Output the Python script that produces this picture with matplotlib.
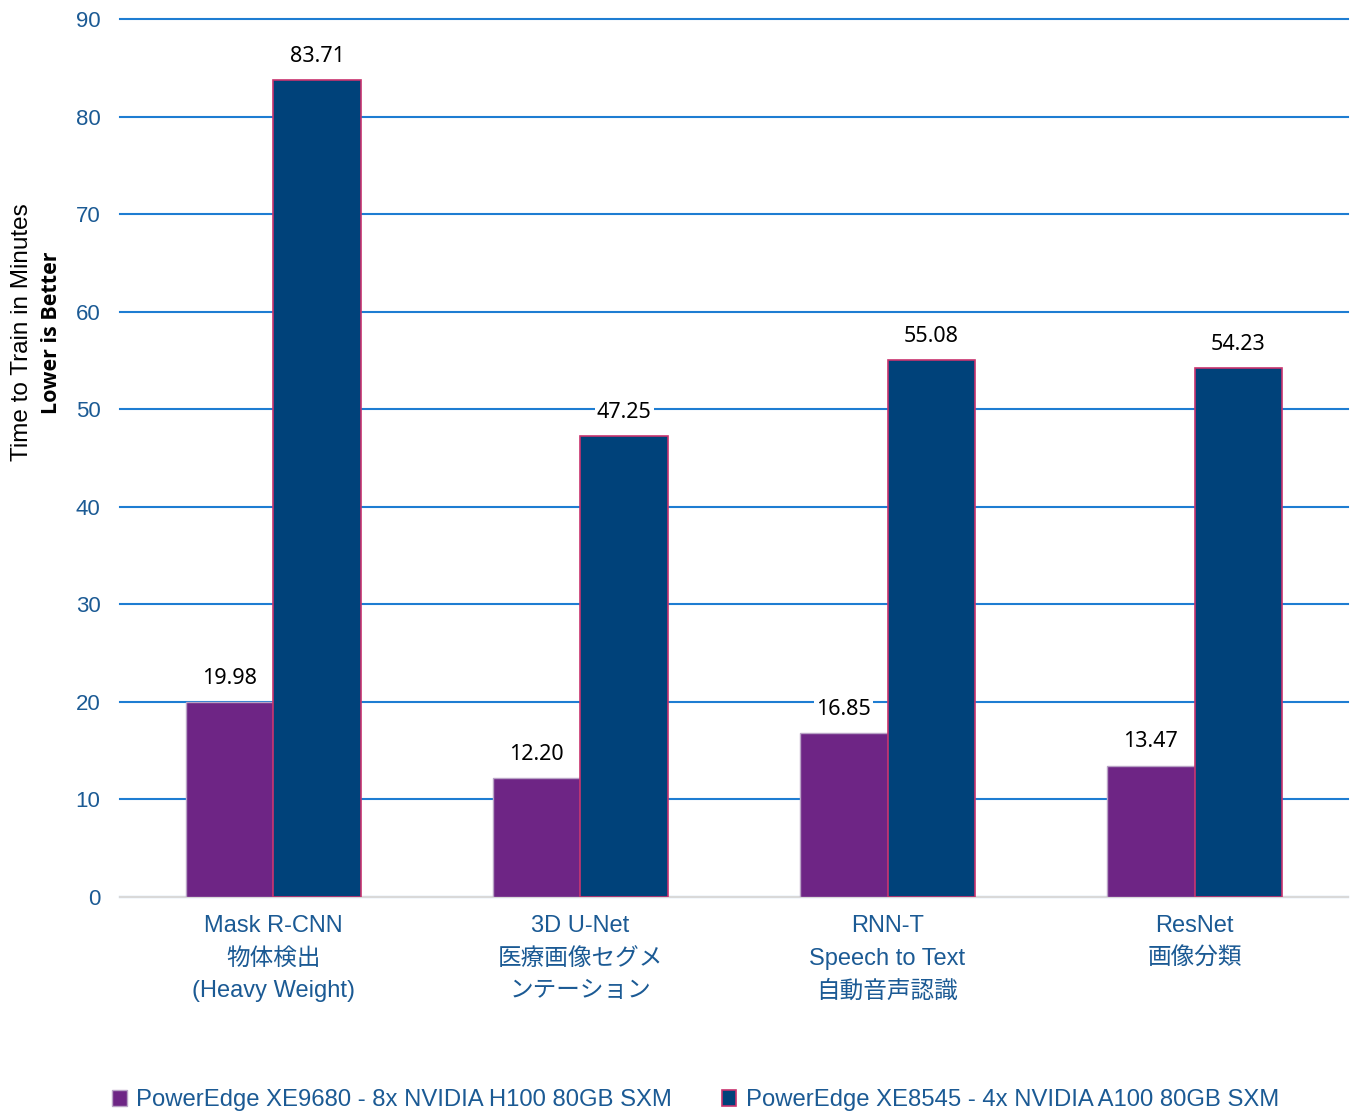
import numpy as np
import matplotlib
matplotlib.use("Agg")
import matplotlib.pyplot as plt

plt.rcParams['font.family'] = ['Liberation Sans', 'Noto Sans CJK JP', 'DejaVu Sans']

# data
categories = ["Mask R-CNN\n物体検出\n(Heavy Weight)",
              "3D U-Net\n医療画像セグメ\nンテーション",
              "RNN-T\nSpeech to Text\n自動音声認識",
              "ResNet\n画像分類"]
h100_vals = [19.98, 12.20, 16.85, 13.47]
a100_vals = [83.71, 47.25, 55.08, 54.23]
series_names = ["PowerEdge XE9680 - 8x NVIDIA H100 80GB SXM",
                "PowerEdge XE8545 - 4x NVIDIA A100 80GB SXM"]
y_ticks = [0, 10, 20, 30, 40, 50, 60, 70, 80, 90]

purple = "#6E2585"
navy = "#00427A"
edge = "#C8336E"
tick_col = "#1B5A94"
grid_col = "#1E7DD2"

fig = plt.figure(figsize=(13.51, 11.15), dpi=100)
ax = fig.add_axes([0.0888, 0.1955, 0.909, 0.7875])

x = np.arange(len(categories))
w = 0.285

b1 = ax.bar(x - w / 2, h100_vals, w, color=purple, edgecolor="#B9A3C6", linewidth=1.0,
            label=series_names[0], zorder=3)
b2 = ax.bar(x + w / 2, a100_vals, w, color=navy, edgecolor=edge, linewidth=1.2,
            label=series_names[1], zorder=3)

# value labels with white box over gridlines
for bars, vals in [(b1, h100_vals), (b2, a100_vals)]:
    for bar, v in zip(bars, vals):
        ax.annotate(f"{v:.2f}", (bar.get_x() + bar.get_width() / 2, v),
                    xytext=(0, 17), textcoords="offset points",
                    ha="center", va="center", fontsize=15.5, color="black",
                    family=["Noto Sans", "DejaVu Sans"], zorder=4,
                    bbox=dict(facecolor="white", edgecolor="none", pad=1.5))

ax.set_xlim(-0.5, len(categories) - 0.5)
ax.set_ylim(0, 90)
ax.set_yticks(y_ticks)
ax.yaxis.grid(True, color=grid_col, linewidth=1.5, zorder=0)
for gl in ax.get_ygridlines():
    gl.set_clip_on(False)
ax.set_axisbelow(True)
ax.tick_params(axis='y', length=0, labelsize=16, labelcolor=tick_col, pad=14)
ax.tick_params(axis='x', length=0, labelsize=17, labelcolor=tick_col, pad=13)
ax.set_xticks(x)
ax.set_xticklabels(categories, linespacing=1.62)
for s in ["top", "right", "left"]:
    ax.spines[s].set_visible(False)
ax.spines["bottom"].set_color("#D9D9D9")
ax.spines["bottom"].set_linewidth(1.5)

fig.text(0.016, 0.702, "Time to Train in Minutes", rotation=90, ha="center", va="center",
         fontsize=17.5, color="black")
fig.text(0.038, 0.702, "Lower is Better", rotation=90, ha="center", va="center",
         fontsize=15.5, color="black", fontweight="bold", family=["Open Sans", "DejaVu Sans"])

leg = fig.legend(handles=[b1, b2], loc="lower center", bbox_to_anchor=(0.515, -0.016), ncol=2,
                 frameon=False, fontsize=17.2, handlelength=0.6, handleheight=0.6,
                 handletextpad=0.4, columnspacing=2.1)
for t in leg.get_texts():
    t.set_color(tick_col)

fig.savefig("out.png", dpi=100)
